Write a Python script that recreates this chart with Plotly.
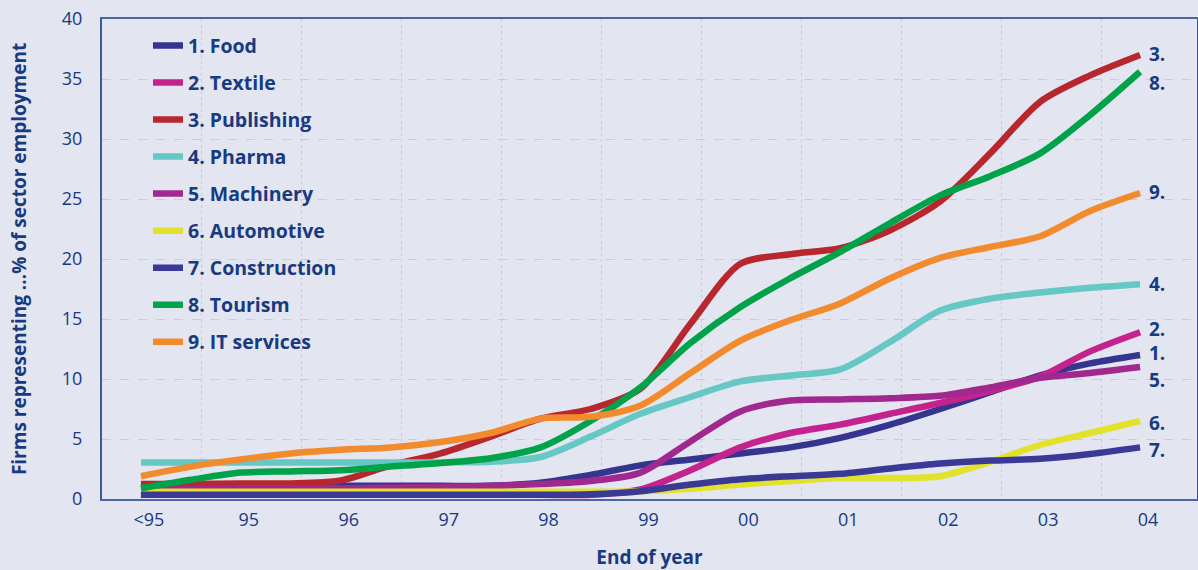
import plotly.graph_objects as go

# Half-year sampling positions: 0 = "<95" (end of 1994) ... 10 = end of 2004
t = [i * 0.5 for i in range(21)]

food = [1.1, 1.1, 1.1, 1.1, 1.1, 1.1, 1.1, 1.1, 1.35, 2.0, 2.8, 3.3, 3.8, 4.3, 5.1, 6.2, 7.5, 8.9, 10.3, 11.3, 12.0]
textile = [0.35, 0.35, 0.35, 0.35, 0.35, 0.35, 0.35, 0.35, 0.35, 0.35, 0.8, 2.4, 4.3, 5.5, 6.2, 7.1, 8.0, 9.0, 10.2, 12.3, 13.9]
publishing = [1.25, 1.25, 1.3, 1.3, 1.55, 2.8, 3.8, 5.2, 6.7, 7.5, 9.2, 14.6, 19.6, 20.4, 20.9, 22.4, 24.8, 28.8, 33.1, 35.3, 37.0]
pharma = [3.05, 3.05, 3.05, 3.05, 3.05, 3.05, 3.05, 3.1, 3.5, 5.2, 7.1, 8.5, 9.8, 10.3, 10.8, 13.1, 15.7, 16.7, 17.2, 17.6, 17.9]
machinery = [0.85, 0.85, 0.9, 0.9, 0.9, 0.95, 1.0, 1.1, 1.25, 1.5, 2.2, 4.8, 7.3, 8.2, 8.3, 8.4, 8.6, 9.3, 10.1, 10.5, 11.0]
automotive = [0.6, 0.6, 0.6, 0.6, 0.6, 0.6, 0.6, 0.6, 0.6, 0.6, 0.65, 0.85, 1.2, 1.5, 1.75, 1.75, 1.9, 3.1, 4.5, 5.5, 6.5]
construction = [0.35, 0.35, 0.35, 0.35, 0.35, 0.35, 0.35, 0.35, 0.35, 0.4, 0.65, 1.2, 1.65, 1.9, 2.1, 2.55, 2.95, 3.2, 3.35, 3.75, 4.3]
tourism = [0.9, 1.6, 2.2, 2.3, 2.4, 2.7, 3.0, 3.4, 4.3, 6.5, 9.3, 13.0, 16.0, 18.4, 20.6, 23.0, 25.3, 26.9, 28.8, 32.0, 35.6]
it_services = [1.9, 2.7, 3.3, 3.8, 4.1, 4.3, 4.75, 5.5, 6.7, 6.85, 7.8, 10.5, 13.2, 14.9, 16.3, 18.4, 20.1, 21.0, 21.9, 24.0, 25.5]

sector_names = ["1. Food", "2. Textile", "3. Publishing", "4. Pharma", "5. Machinery",
                "6. Automotive", "7. Construction", "8. Tourism", "9. IT services"]
end_tags = ["1.", "2.", "3.", "4.", "5.", "6.", "7.", "8.", "9."]
series = [food, textile, publishing, pharma, machinery, automotive, construction, tourism, it_services]
colors = ["#34358f", "#c4228d", "#b8262e", "#66c8c4", "#a0288e",
          "#e2e22c", "#3a3a96", "#00a24a", "#f28a2e"]
# vertical nudges for the end tags so that close neighbours stay legible
tag_shift = [2, 3, 1, 0, -13, -2, -3, -11, 1]

year_labels = ["<95", "95", "96", "97", "98", "99", "00", "01", "02", "03", "04"]

TEXT = "#173a80"
BG = "#e3e5f0"
GRID = "#b9d3de"
FONT = "Open Sans"

fig = go.Figure()

for i, (name, ys, col) in enumerate(zip(sector_names, series, colors)):
    fig.add_trace(go.Scatter(
        x=t, y=ys, name=name, mode="lines",
        line=dict(color=col, width=6.5, shape="spline", smoothing=0.8),
        legendgroup=name, hoverinfo="skip",
    ))

for ys, tag, dy in zip(series, end_tags, tag_shift):
    fig.add_annotation(
        x=t[-1], y=ys[-1], text=tag, showarrow=False,
        xanchor="left", yanchor="middle", xshift=8, yshift=dy,
        height=20, valign="middle", borderpad=0,
        font=dict(family=FONT, size=19, color=TEXT, weight="bold"),
    )

fig.update_layout(
    width=1198, height=570,
    margin=dict(l=102, r=1, t=19, b=71),
    paper_bgcolor=BG, plot_bgcolor=BG,
    font=dict(family=FONT, color=TEXT),
    showlegend=True,
    legend=dict(
        x=0.042, y=0.985, xanchor="left", yanchor="top",
        bgcolor="rgba(0,0,0,0)", borderwidth=0,
        font=dict(family=FONT, size=19.5, color=TEXT, weight="bold"),
        itemwidth=30, tracegroupgap=8.7, traceorder="grouped",
    ),
    xaxis=dict(
        range=[-0.39, 10.57],
        tickmode="array",
        tickvals=[k + 0.08 for k in range(len(year_labels))],
        ticktext=year_labels,
        tickfont=dict(family=FONT, size=18, color=TEXT),
        ticks="", ticklabelstandoff=4,
        showgrid=False, zeroline=False,
        minor=dict(tickmode="array", tickvals=[k + 0.61 for k in range(10)],
                   showgrid=True, gridcolor=GRID, gridwidth=1, griddash="dot"),
        showline=True, linecolor="#4a65a0", linewidth=1.5, mirror=True,
        title=dict(text="End of year", standoff=20,
                   font=dict(family=FONT, size=19, color=TEXT, weight="bold")),
        automargin=False,
    ),
    yaxis=dict(
        range=[0, 40], tickmode="array", tickvals=list(range(0, 41, 5)),
        tickfont=dict(family=FONT, size=18, color=TEXT),
        ticks="", ticklabelstandoff=14,
        showgrid=True, gridcolor=GRID, gridwidth=1, griddash="dash",
        zeroline=False,
        showline=True, linecolor="#3d5a98", linewidth=2, mirror=True,
        title=dict(text="Firms representing ...% of sector employment", standoff=30,
                   font=dict(family=FONT, size=19, color=TEXT, weight="bold")),
        automargin=False,
    ),
)

fig.write_html("out.html")
